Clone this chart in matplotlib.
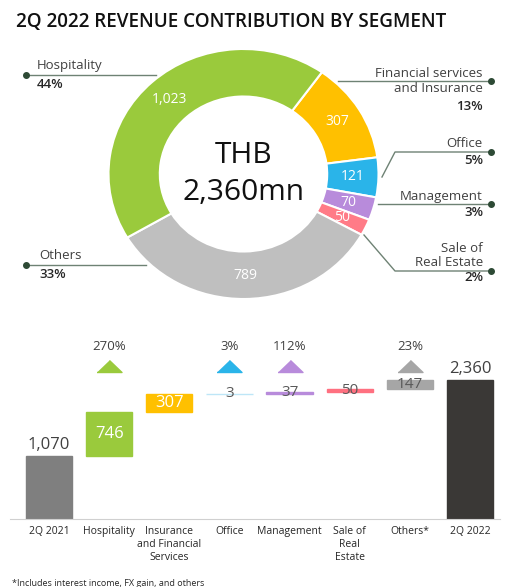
import numpy as np
import matplotlib
matplotlib.use('Agg')
import matplotlib.pyplot as plt

plt.rcParams['font.family'] = ['Open Sans', 'DejaVu Sans']

# donut data (clockwise from the top-right)
seg_names = ['Financial services\nand Insurance', 'Office', 'Management', 'Sale of\nReal Estate', 'Others', 'Hospitality']
seg_values = [307, 121, 70, 50, 789, 1023]
seg_pcts = ['13%', '5%', '3%', '2%', '33%', '44%']
seg_colors = ['#FFC000', '#2AB4E9', '#B88BDB', '#FF7B87', '#BFBFBF', '#9ACA3C']
total_2q22 = 2360

# waterfall data
wf_labels = ['2Q 2021', 'Hospitality', 'Insurance\nand Financial\nServices', 'Office', 'Management',
             'Sale of\nReal\nEstate', 'Others*', '2Q 2022']
wf_start = 1070
wf_steps = [746, 307, 3, 37, 50, 147]
wf_end = 2360
wf_pct = ['', '270%', '', '3%', '112%', '', '23%', '']
wf_colors = ['#7F7F7F', '#9ACA3C', '#FFC000', '#BEE6F7', '#B88BDB', '#FF7080', '#A6A6A6', '#3A3836']
tri_colors = ['', '#9ACA3C', '', '#2AB4E9', '#B88BDB', '', '#A6A6A6', '']

W, H = 510, 587
fig = plt.figure(figsize=(W / 100, H / 100), dpi=100)

def box(x0, y0, x1, y1):
    # pixel box (top-left origin) -> figure fraction rect
    return [x0 / W, 1 - y1 / H, (x1 - x0) / W, (y1 - y0) / H]

# ---- donut ----
ax1 = fig.add_axes(box(108.5, 49, 378.5, 299))
wedges, texts, autotexts = ax1.pie(
    seg_values, colors=seg_colors, startangle=54.5, counterclock=False,
    radius=1, wedgeprops=dict(width=0.38, edgecolor='white', linewidth=1.5),
    autopct=lambda p: f'{round(p * sum(seg_values) / 100):,}', pctdistance=0.81,
    textprops=dict(color='white', fontsize=10))
ax1.set_aspect('auto')
ax1.set_xlim(-1, 1)
ax1.set_ylim(-1, 1)
ax1.axis('off')
ax1.text(0, 0.15, 'THB', ha='center', va='center', fontsize=21.5, color='#111111')
ax1.text(0, -0.15, f'{total_2q22:,}mn', ha='center', va='center', fontsize=21.5, color='#111111')

# ---- waterfall ----
ax2 = fig.add_axes(box(10, 330, 500, 519))
x = np.arange(len(wf_labels))
cum = wf_start + np.concatenate([[0], np.cumsum(wf_steps)[:-1]])
heights = [wf_start] + wf_steps + [wf_end]
bottoms = [0] + list(cum) + [0]
ax2.bar(x, heights, bottom=bottoms, width=0.77, color=wf_colors,
        edgecolor=wf_colors, linewidth=1.0)
for i, (h, b) in enumerate(zip(heights, bottoms)):
    if i in (0, len(x) - 1):
        ax2.annotate(f'{h:,}', (i, b + h), xytext=(0, 2), textcoords='offset points',
                     ha='center', va='bottom', fontsize=12, color='#404040')
    elif h > 200:
        ax2.text(i, b + h / 2, f'{h:,}', ha='center', va='center', fontsize=12, color='white')
    else:
        ax2.text(i, b + h / 2, f'{h:,}', ha='center', va='center', fontsize=11, color='#595959')
tri = [(-1, -0.48), (1, -0.48), (0, 0.48)]
trans = ax2.get_xaxis_transform()
for i, (p, c) in enumerate(zip(wf_pct, tri_colors)):
    if p:
        ax2.plot(i, 0.81, marker=tri, markersize=18, color=c, transform=trans, clip_on=False)
        ax2.text(i, 0.915, p, ha='center', va='center', fontsize=9.5, color='#404040', transform=trans)
ax2.set_xlim(-0.65, 7.5)
ax2.set_ylim(0, wf_end * 189 / 139)
for s in ['top', 'right', 'left']:
    ax2.spines[s].set_visible(False)
ax2.spines['bottom'].set_color('#D0D0D0')
ax2.set_yticks([])
ax2.set_xticks(x)
ax2.set_xticklabels(wf_labels, fontsize=7.5, color='#262626', linespacing=1.25, va='top')
ax2.tick_params(axis='x', length=0, pad=5)

# ---- overlay: title, leader lines ----
ov = fig.add_axes([0, 0, 1, 1])
ov.set_xlim(0, W)
ov.set_ylim(H, 0)
ov.axis('off')
ov.patch.set_visible(False)
ov.text(16, 22, '2Q 2022 REVENUE CONTRIBUTION BY SEGMENT', fontsize=13.6, fontweight='semibold',
        color='#111111', va='center', ha='left')
lc, dc = '#6E8274', '#2D4A35'
fs = 9.5
# left side
ov.plot([26, 156], [75, 75], color=lc, lw=1)
ov.plot(26, 75, 'o', ms=4, color=dc)
ov.text(37, 72, 'Hospitality', fontsize=fs, color='#404040', va='bottom')
ov.text(37, 78, seg_pcts[5], fontsize=fs, color='#262626', va='top', fontweight='semibold')
ov.plot([26, 146], [265, 265], color=lc, lw=1)
ov.plot(26, 265, 'o', ms=4, color=dc)
ov.text(39, 262, 'Others', fontsize=fs, color='#404040', va='bottom')
ov.text(39, 268, seg_pcts[4], fontsize=fs, color='#262626', va='top', fontweight='semibold')
# right side
fin_top, fin_bottom = seg_names[0].split('\n')
ov.plot([338, 491], [81, 81], color=lc, lw=1)
ov.plot(491, 81, 'o', ms=4, color=dc)
ov.text(483, 80, fin_top, fontsize=fs, color='#404040', ha='right', va='bottom')
ov.text(483, 82, fin_bottom, fontsize=fs, color='#404040', ha='right', va='top')
ov.text(483, 100, seg_pcts[0], fontsize=fs, color='#262626', ha='right', va='top', fontweight='semibold')
ov.plot([382, 395, 491], [177, 152, 152], color=lc, lw=1)
ov.plot(491, 152, 'o', ms=4, color=dc)
ov.text(483, 150, seg_names[1], fontsize=fs, color='#404040', ha='right', va='bottom')
ov.text(483, 154, seg_pcts[1], fontsize=fs, color='#262626', ha='right', va='top', fontweight='semibold')
ov.plot([378, 491], [204, 204], color=lc, lw=1)
ov.plot(491, 204, 'o', ms=4, color=dc)
ov.text(483, 203, seg_names[2], fontsize=fs, color='#404040', ha='right', va='bottom')
ov.text(483, 206, seg_pcts[2], fontsize=fs, color='#262626', ha='right', va='top', fontweight='semibold')
ov.plot([364, 395, 491], [235, 271, 271], color=lc, lw=1)
ov.plot(491, 271, 'o', ms=4, color=dc)
ov.text(483, 269, seg_names[3], fontsize=fs, color='#404040', ha='right', va='bottom',
        linespacing=1.15, multialignment='right')
ov.text(483, 271, seg_pcts[3], fontsize=fs, color='#262626', ha='right', va='top', fontweight='semibold')
ov.text(12, 584, '*Includes interest income, FX gain, and others', fontsize=6.5, color='#262626',
        va='center')

fig.savefig('out.png', dpi=100)
